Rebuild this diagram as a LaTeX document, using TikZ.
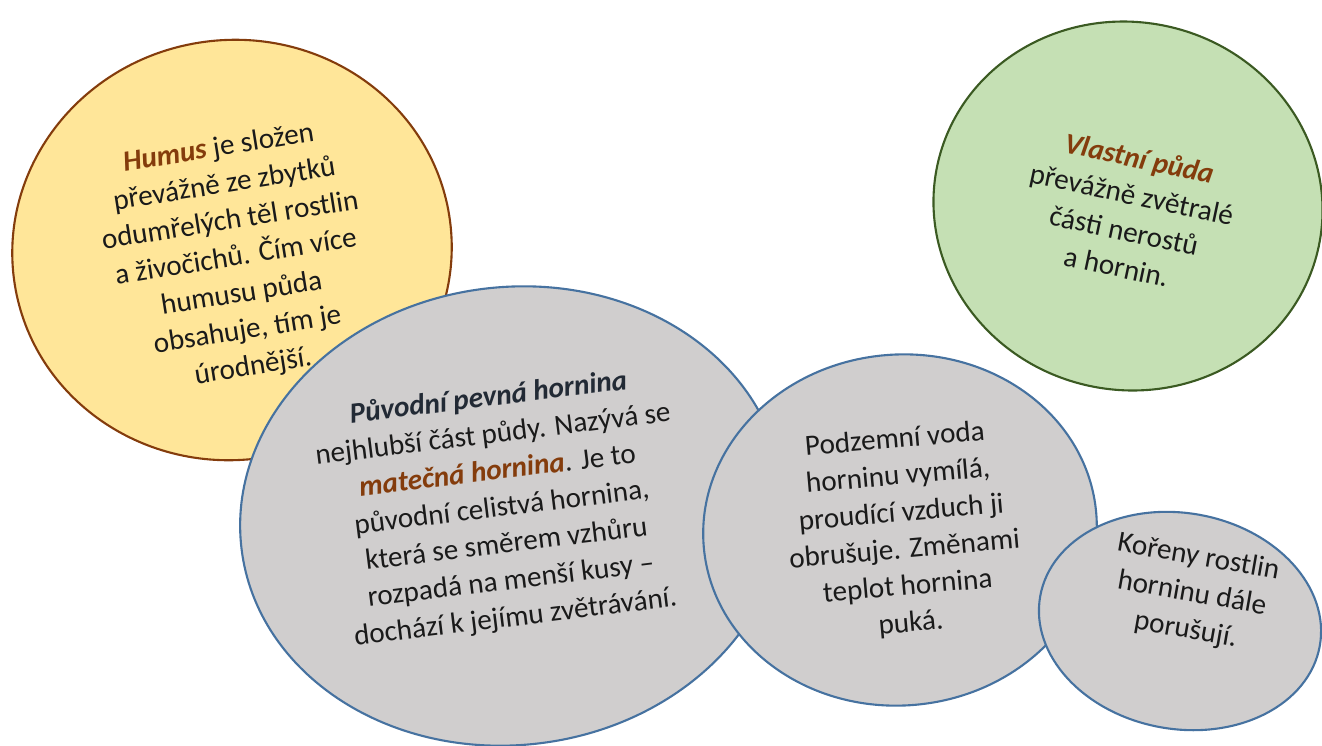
\documentclass[tikz,border=0pt]{standalone}
\usepackage{fontspec}
\setmainfont{Carlito}
\usetikzlibrary{shapes.geometric}
\definecolor{humusfill}{HTML}{FFE699}
\definecolor{humusline}{HTML}{843C0C}
\definecolor{soilfill}{HTML}{C5E0B4}
\definecolor{soilline}{HTML}{3B5A22}
\definecolor{rockfill}{HTML}{D0CECE}
\definecolor{rockline}{HTML}{4672A0}
\definecolor{ink}{HTML}{1A1A1A}
\definecolor{navy}{HTML}{222A35}
\newcommand{\hl}[1]{\textcolor{humusline}{\textbf{\textit{#1}}}}

\begin{document}
\begin{tikzpicture}[x=0.02cm, y=-0.02cm,
  blob/.style={ellipse, draw, line width=1.2pt, inner sep=0pt},
  txt/.style={align=center, text=ink, font=\fontsize{16.6}{21}\selectfont}]
  \useasboundingbox (0,0) rectangle (1322,745);

  % humus
  \node[blob, fill=humusfill, draw=humusline, minimum width=8.8cm, minimum height=8.4cm,
        rotate=9] (humus) at (232,250) {};
  \node[txt, rotate=9] (humustxt) at (236,258)
    {\hl{Humus} je složen\\ převážně ze zbytků\\ odumřelých těl rostlin\\
     a živočichů. Čím více\\ humusu půda\\ obsahuje, tím je\\ úrodnější.};

  % vlastni puda
  \node[blob, fill=soilfill, draw=soilline, minimum width=7.8cm, minimum height=7.36cm,
        rotate=-12] (soil) at (1128,206) {};
  \node[txt, rotate=-12] (soiltxt) at (1128,212)
    {\hl{Vlastní půda}\\ převážně zvětralé\\ části nerostů\\ a hornin.};

  % matecna hornina
  \node[blob, fill=rockfill, draw=rockline, minimum width=10.9cm, minimum height=9.16cm,
        rotate=7] (bedrock) at (512,516) {};
  \node[txt, rotate=7] (bedrocktxt) at (502,508)
    {\textcolor{navy}{\textbf{\textit{Původní pevná hornina}}}\\
     nejhlubší část půdy. Nazývá se\\ \hl{matečná hornina}. Je to\\
     původní celistvá hornina,\\ která se směrem vzhůru\\
     rozpadá na menší kusy --\\ dochází k jejímu zvětrávání.};

  % voda a vzduch
  \node[blob, fill=rockfill, draw=rockline, minimum width=7.88cm, minimum height=7.02cm,
        rotate=5] (water) at (900,530) {};
  \node[txt, rotate=5] (watertxt) at (903,532)
    {Podzemní voda\\ horninu vymílá,\\ proudící vzduch ji\\
     obrušuje. Změnami\\ teplot hornina\\ puká.};

  % koreny
  \node[blob, fill=rockfill, draw=rockline, minimum width=5.68cm, minimum height=4.32cm,
        rotate=-10] (roots) at (1180,621) {};
  \node[txt, rotate=-10] (rootstxt) at (1192,594)
    {Kořeny rostlin\\ horninu dále\\ porušují.};
\end{tikzpicture}
\end{document}
